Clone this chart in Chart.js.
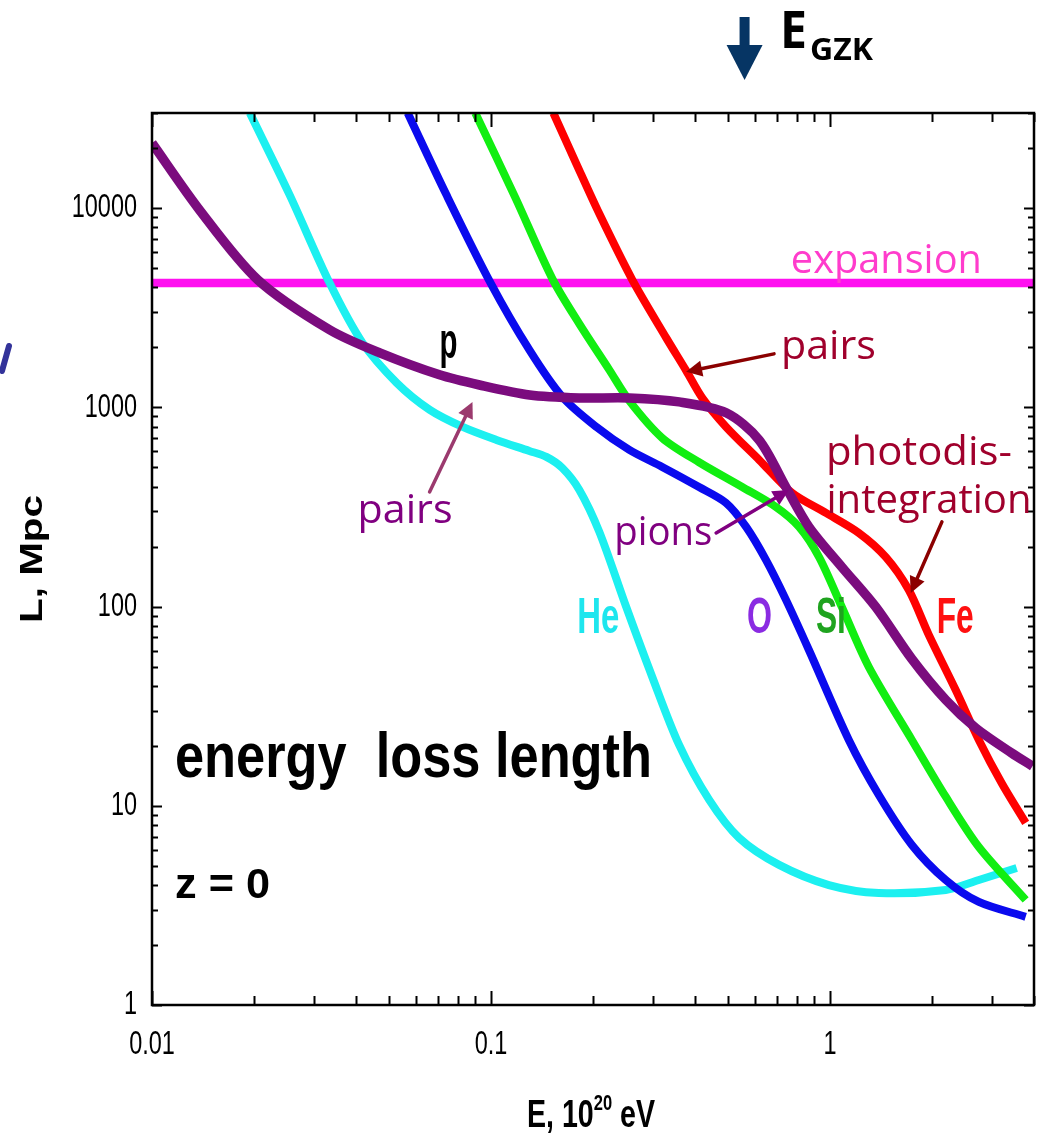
<!DOCTYPE html>
<html>
<head>
<meta charset="utf-8">
<script src="https://cdn.jsdelivr.net/npm/chart.js@4/dist/chart.umd.min.js"></script>
<style>
  html, body { margin: 0; padding: 0; background: #fff; }
  #wrap { width: 1062px; height: 1144px; position: relative; }
</style>
</head>
<body>
<div id="wrap"><canvas id="c" width="1062" height="1144"></canvas></div>
<script>
// Energy loss length at z = 0, E in units of 1e20 eV, L in Mpc.
const energyP  = [0.01, 0.0138, 0.0205, 0.0334, 0.047, 0.0705, 0.0925, 0.130, 0.182, 0.256, 0.359, 0.494, 0.618, 0.741, 0.867, 1.084, 1.365, 1.744, 2.196, 2.69, 3.436, 3.96];
const lengthP  = [21200, 9800, 4370, 2450, 1875, 1455, 1294, 1153, 1114, 1114, 1064, 938, 686, 398, 251, 158, 99.5, 54.6, 34.0, 24.6, 18.4, 15.8];

const energyHe = [0.01944, 0.02547, 0.0334, 0.0418, 0.0527, 0.0660, 0.0825, 0.1038, 0.1298, 0.1457, 0.1624, 0.1823, 0.2088, 0.2506, 0.2991, 0.359, 0.4404, 0.540, 0.708, 0.993, 1.393, 2.196, 2.75, 3.556];
const lengthHe = [30000, 11650, 4215, 2105, 1327, 971, 797, 686, 604, 564, 496, 385, 237, 99.5, 44.3, 20.2, 10.7, 6.89, 5.05, 4.00, 3.65, 3.78, 4.24, 4.87];

const energyO  = [0.0568, 0.0739, 0.0997, 0.1298, 0.1624, 0.2046, 0.256, 0.320, 0.411, 0.494, 0.566, 0.648, 0.742, 0.867, 1.137, 1.394, 1.745, 2.196, 2.75, 3.78];
const lengthO  = [30000, 11650, 4215, 1941, 1128, 797, 611, 502, 398, 331, 251, 171, 108, 60.5, 21.4, 11.33, 6.36, 4.24, 3.29, 2.77];

const energySi = [0.0899, 0.1181, 0.1518, 0.1823, 0.2234, 0.256, 0.320, 0.411, 0.551, 0.693, 0.811, 0.929, 1.084, 1.303, 1.745, 2.196, 2.75, 3.78];
const lengthSi = [30000, 11250, 4412, 2623, 1541, 1077, 702, 530, 398, 316, 251, 177, 99.5, 49.7, 21.4, 11.1, 6.21, 3.37];

const energyFe = [0.1528, 0.1786, 0.2088, 0.2612, 0.3289, 0.377, 0.420, 0.494, 0.618, 0.773, 0.973, 1.217, 1.462, 1.709, 1.958, 2.35, 2.75, 3.21, 3.78];
const lengthFe = [30000, 16670, 9352, 4361, 2231, 1523, 1115, 797, 545, 372, 295, 234, 177, 121, 72, 38.1, 21.4, 13.0, 8.20];

const energyExp = [0.01, 4.0];
const lengthExp = [4200, 4200];

const xTickValues = [0.01, 0.1, 1];
const xTickLabels = ['0.01', '0.1', '1'];
const yTickValues = [1, 10, 100, 1000, 10000];
const yTickLabels = ['1', '10', '100', '1000', '10000'];

const E_GZK = 0.56;

const zip = (xs, ys) => xs.map((x, i) => ({ x: x, y: ys[i] }));

function series(label, xs, ys, color, width) {
  return {
    label: label,
    data: zip(xs, ys),
    borderColor: color,
    backgroundColor: color,
    borderWidth: width,
    pointRadius: 0,
    pointHoverRadius: 0,
    tension: 0.3,
    borderCapStyle: 'butt',
    borderJoinStyle: 'round',
    fill: false,
    clip: 0
  };
}

// Draws a string whose width is stretched/compressed to a given pixel width.
function fitText(ctx, text, x, y, w, font, color) {
  ctx.save();
  ctx.font = font;
  ctx.fillStyle = color;
  ctx.textAlign = 'left';
  ctx.textBaseline = 'alphabetic';
  const m = ctx.measureText(text).width;
  ctx.translate(x, y);
  ctx.scale(w / m, 1);
  ctx.fillText(text, 0, 0);
  ctx.restore();
}

// Draws a string squeezed horizontally by a fixed factor.
function narrowText(ctx, text, x, y, sx, font, align, baseline) {
  ctx.save();
  ctx.font = font;
  ctx.fillStyle = '#000';
  ctx.textAlign = align;
  ctx.textBaseline = baseline;
  ctx.translate(x, y);
  ctx.scale(sx, 1);
  ctx.fillText(text, 0, 0);
  ctx.restore();
}

function arrow(ctx, x1, y1, x2, y2, color, lw, head) {
  const a = Math.atan2(y2 - y1, x2 - x1);
  ctx.save();
  ctx.strokeStyle = color;
  ctx.fillStyle = color;
  ctx.lineWidth = lw;
  ctx.lineCap = 'round';
  ctx.beginPath();
  ctx.moveTo(x1, y1);
  ctx.lineTo(x2 - Math.cos(a) * head * 0.8, y2 - Math.sin(a) * head * 0.8);
  ctx.stroke();
  ctx.beginPath();
  ctx.moveTo(x2, y2);
  ctx.lineTo(x2 - head * Math.cos(a) + head * 0.5 * Math.sin(a), y2 - head * Math.sin(a) - head * 0.5 * Math.cos(a));
  ctx.lineTo(x2 - head * Math.cos(a) - head * 0.5 * Math.sin(a), y2 - head * Math.sin(a) + head * 0.5 * Math.cos(a));
  ctx.closePath();
  ctx.fill();
  ctx.restore();
}

const HAND = "'Open Sans', 'Noto Sans', sans-serif";
const BOLD = "'Liberation Sans', Arial, sans-serif";
const TICK_FONT = "34px 'Liberation Sans', Arial, sans-serif";

// Frame with inward tick marks on all four sides, plus tall narrow tick labels.
const framePlugin = {
  id: 'frame',
  afterDatasetsDraw(chart) {
    const ctx = chart.ctx, ca = chart.chartArea;
    const xs = chart.scales.x, ys = chart.scales.y;
    ctx.save();
    ctx.strokeStyle = '#000';
    ctx.lineWidth = 2;
    ctx.beginPath();
    for (let d = -2; d <= 0; d++) {
      for (let m = 1; m <= 9; m++) {
        const v = m * Math.pow(10, d);
        if (v > xs.max + 1e-9) break;
        const px = Math.round(xs.getPixelForValue(v)) + 0.5;
        const len = m === 1 ? 14 : 9;
        ctx.moveTo(px, ca.bottom); ctx.lineTo(px, ca.bottom - len);
        ctx.moveTo(px, ca.top); ctx.lineTo(px, ca.top + len);
      }
    }
    for (let d = 0; d <= 4; d++) {
      for (let m = 1; m <= 9; m++) {
        const v = m * Math.pow(10, d);
        if (v > ys.max + 1e-9) break;
        const py = Math.round(ys.getPixelForValue(v)) + 0.5;
        const len = m === 1 ? 10 : 6;
        ctx.moveTo(ca.left, py); ctx.lineTo(ca.left + len, py);
        ctx.moveTo(ca.right, py); ctx.lineTo(ca.right - len, py);
      }
    }
    ctx.stroke();
    ctx.lineWidth = 2.5;
    ctx.strokeRect(ca.left, ca.top, ca.right - ca.left, ca.bottom - ca.top);
    ctx.restore();

    // tick labels, taken from the scales' own ticks
    xs.ticks.forEach((t, i) => {
      narrowText(ctx, t.label, xs.getPixelForTick(i), ca.bottom + 40, 0.69, TICK_FONT, 'center', 'middle');
    });
    ys.ticks.forEach((t, i) => {
      narrowText(ctx, t.label, ca.left - 15, ys.getPixelForTick(i), 0.69, TICK_FONT, 'right', 'middle');
    });
  },
  afterDraw(chart) {
    const ctx = chart.ctx;
    const xs = chart.scales.x, ys = chart.scales.y;
    const X = v => xs.getPixelForValue(v);
    const Y = v => ys.getPixelForValue(v);

    // In-plot labels
    fitText(ctx, 'energy  loss length', X(0.01169), Y(13.95), 477, 'bold 63px ' + BOLD, '#000');
    fitText(ctx, 'z = 0', X(0.01169), Y(3.44), 95, 'bold 43px ' + BOLD, '#000');
    fitText(ctx, 'p', X(0.0705), Y(1770), 18, 'bold 50px ' + BOLD, '#000');
    fitText(ctx, 'He', X(0.1798), Y(73.7), 42, 'bold 50px ' + BOLD, '#1ee6ee');
    fitText(ctx, 'O', X(0.569), Y(73.7), 25, 'bold 50px ' + BOLD, '#8a2be2');
    fitText(ctx, 'Si', X(0.909), Y(73.7), 30, 'bold 50px ' + BOLD, '#1fa31f');
    fitText(ctx, 'Fe', X(2.066), Y(73.7), 37, 'bold 50px ' + BOLD, '#ff1010');

    fitText(ctx, 'expansion', X(0.767), Y(4730), 191, '40px ' + HAND, '#ff3ccc');
    fitText(ctx, 'pairs', X(0.717), Y(1750), 95, '40px ' + HAND, '#a0002c');
    fitText(ctx, 'photodis-', X(0.973), Y(514), 186, '40px ' + HAND, '#a0002c');
    fitText(ctx, 'integration', X(0.977), Y(295), 205, '40px ' + HAND, '#a0002c');
    fitText(ctx, 'pions', X(0.2311), Y(204), 98, '40px ' + HAND, '#800080');
    fitText(ctx, 'pairs', X(0.0404), Y(263), 95, '40px ' + HAND, '#800080');

    arrow(ctx, X(0.684), Y(1854), X(0.3764), Y(1506), '#8b0000', 3.5, 16);
    arrow(ctx, X(2.14), Y(266), X(1.732), Y(117), '#8b0000', 3.5, 16);
    arrow(ctx, X(0.4616), Y(234), X(0.757), Y(385), '#800080', 3.5, 16);
    arrow(ctx, X(0.0659), Y(376), X(0.0882), Y(1064), '#9b3a6e', 3.5, 16);

    // E_GZK marker above the frame
    const gx = X(E_GZK);
    ctx.save();
    ctx.fillStyle = '#063564';
    ctx.fillRect(gx - 5, 17, 10, 30);
    ctx.beginPath();
    ctx.moveTo(gx - 18, 45); ctx.lineTo(gx + 18, 45); ctx.lineTo(gx, 80);
    ctx.closePath();
    ctx.fill();
    ctx.restore();
    fitText(ctx, 'E', 780, 48, 27, 'bold 52px ' + HAND, '#000');
    fitText(ctx, 'GZK', 810, 60, 63, 'bold 31px ' + HAND, '#000');

    // Axis titles
    ctx.save();
    ctx.translate(42, 623);
    ctx.rotate(-Math.PI / 2);
    fitText(ctx, 'L, Mpc', 0, 0, 128, 'bold 31px ' + BOLD, '#000');
    ctx.restore();

    ctx.save();
    ctx.font = 'bold 38px ' + BOLD;
    const wA = ctx.measureText('E, 10').width;
    const wC = ctx.measureText(' eV').width;
    ctx.font = 'bold 22px ' + BOLD;
    const wB = ctx.measureText('20').width;
    const sx = 128 / (wA + wB + wC);
    ctx.translate(527, 1127);
    ctx.scale(sx, 1);
    ctx.fillStyle = '#000';
    ctx.font = 'bold 38px ' + BOLD;
    ctx.fillText('E, 10', 0, 0);
    ctx.font = 'bold 22px ' + BOLD;
    ctx.fillText('20', wA, -17);
    ctx.font = 'bold 38px ' + BOLD;
    ctx.fillText(' eV', wA + wB, 0);
    ctx.restore();

    // stray pen stroke at the left margin
    ctx.save();
    ctx.strokeStyle = '#33339a';
    ctx.lineWidth = 6;
    ctx.lineCap = 'round';
    ctx.beginPath();
    ctx.moveTo(2, 371); ctx.lineTo(9, 346);
    ctx.stroke();
    ctx.restore();
  }
};

new Chart(document.getElementById('c'), {
  type: 'line',
  data: {
    datasets: [
      series('p', energyP, lengthP, '#7b0c7e', 9.5),
      series('Fe', energyFe, lengthFe, '#ff0000', 8),
      series('Si', energySi, lengthSi, '#11ee11', 8),
      series('O', energyO, lengthO, '#0a0aee', 8),
      series('He', energyHe, lengthHe, '#1cf0f0', 8),
      series('expansion', energyExp, lengthExp, '#ff10f0', 8.5)
    ]
  },
  options: {
    responsive: false,
    animation: false,
    devicePixelRatio: 1,
    layout: { padding: { left: 0, right: 28, top: 113, bottom: 0 } },
    plugins: { legend: { display: false }, tooltip: { enabled: false }, title: { display: false } },
    scales: {
      x: {
        type: 'logarithmic',
        min: 0.01,
        max: 4,
        grid: { display: false },
        border: { display: false },
        afterFit: s => { s.height = 139; },
        afterBuildTicks: s => { s.ticks = xTickValues.map(v => ({ value: v, major: true })); },
        ticks: {
          display: false,
          autoSkip: false,
          maxRotation: 0,
          callback: (v, i) => xTickLabels[i]
        }
      },
      y: {
        type: 'logarithmic',
        min: 1,
        max: 30000,
        grid: { display: false },
        border: { display: false },
        afterFit: s => { s.width = 152; },
        afterBuildTicks: s => { s.ticks = yTickValues.map(v => ({ value: v, major: true })); },
        ticks: {
          display: false,
          autoSkip: false,
          callback: (v, i) => yTickLabels[i]
        }
      }
    }
  },
  plugins: [framePlugin]
});
</script>
</body>
</html>
